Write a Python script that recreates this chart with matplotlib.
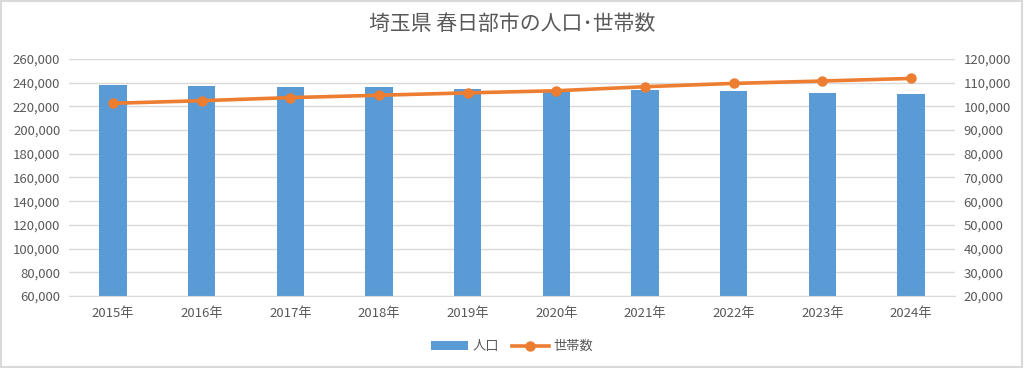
import matplotlib
matplotlib.use("Agg")
import matplotlib.pyplot as plt
from matplotlib.ticker import FuncFormatter, MultipleLocator
from matplotlib.patches import Rectangle

plt.rcParams['font.family'] = ['Noto Sans CJK JP', 'DejaVu Sans']

years = ["2015年", "2016年", "2017年", "2018年", "2019年", "2020年", "2021年", "2022年", "2023年", "2024年"]
population = [238000, 237200, 236700, 236100, 234700, 234000, 233600, 233000, 231600, 230500]
households = [101300, 102400, 103700, 104700, 105700, 106600, 108300, 109700, 110700, 111800]

fig = plt.figure(figsize=(10.24, 3.68), dpi=100)
ax = fig.add_axes([0.067, 0.1957, 0.866, 0.644])
ax2 = ax.twinx()

x = list(range(len(years)))
bars = ax.bar(x, population, width=0.31, color='#5b9bd5', zorder=2, label='人口')
line, = ax2.plot(x, households, color='#ed7d31', linewidth=2.6, marker='o', markersize=6.5, label='世帯数', zorder=3)

ax.set_xlim(-0.5, len(years) - 0.5)
ax.set_ylim(60000, 260000)
ax2.set_ylim(20000, 120000)
ax.yaxis.set_major_locator(MultipleLocator(20000))
ax2.yaxis.set_major_locator(MultipleLocator(10000))
fmt = FuncFormatter(lambda v, p: f"{int(v):,}")
ax.yaxis.set_major_formatter(fmt)
ax2.yaxis.set_major_formatter(fmt)
ax.set_xticks(x)
ax.set_xticklabels(years)

ax.grid(axis='y', color='#d9d9d9', linewidth=1, zorder=0)
ax.set_axisbelow(True)
for a in (ax, ax2):
    for s in a.spines.values():
        s.set_visible(False)
    a.tick_params(length=0, labelsize=9.5, colors='#595959')
ax.spines['bottom'].set_visible(True)
ax.spines['bottom'].set_color('#d9d9d9')
ax.tick_params(axis='x', pad=8)
ax.tick_params(axis='y', pad=6)
ax2.tick_params(axis='y', pad=6)
ax2.set_zorder(ax.get_zorder() + 1)
ax2.patch.set_visible(False)

fig.text(0.5, 0.935, "埼玉県 春日部市の人口･世帯数", ha='center', va='center', fontsize=15, color='#595959')

fig.legend([bars, line], ['人口', '世帯数'], loc='center', bbox_to_anchor=(0.5, 0.058), ncol=2,
           frameon=False, fontsize=9.5, labelcolor='#595959', handlelength=2.8, columnspacing=1.0,
           handletextpad=0.3)

fig.patches.append(Rectangle((0.001, 0.003), 0.997, 0.994, transform=fig.transFigure,
                             fill=False, edgecolor='#d9d9d9', linewidth=1.5))

fig.savefig("out.png", dpi=100, facecolor='white')
